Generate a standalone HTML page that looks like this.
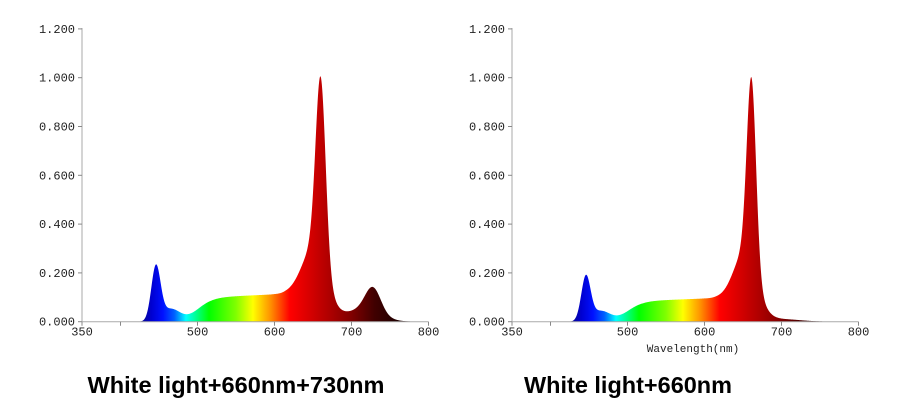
<!DOCTYPE html>
<html><head><meta charset="utf-8"><style>
body{margin:0;background:#fff;width:917px;height:412px;overflow:hidden}
svg{display:block}
.t{font-family:"Liberation Mono",monospace;font-size:12px;fill:#222}
.h{font-family:"Liberation Sans",sans-serif;font-weight:bold;font-size:23.5px;fill:#000}
</style></head><body>
<svg id="s" width="917" height="412" xmlns="http://www.w3.org/2000/svg">
<defs></defs>
<text class="h" x="236" y="393" text-anchor="middle" textLength="297" lengthAdjust="spacingAndGlyphs">White light+660nm+730nm</text>
<text class="h" x="628" y="393" text-anchor="middle" textLength="208" lengthAdjust="spacingAndGlyphs">White light+660nm</text>
<text class="t" x="693" y="352" text-anchor="middle" style="font-size:11px">Wavelength(nm)</text>
</svg>
<script>
var NS="http://www.w3.org/2000/svg",s=document.getElementById('s');
function g(x,m,sd){return Math.exp(-(x-m)*(x-m)/(2*sd*sd));}
function ph(l,a){var v=a/(1+Math.exp(-(l-500)/10));var k=Math.min(1,Math.max(0,(l-520)/80));v*=0.9+0.1*k;if(l>612)v*=Math.exp(-(l-612)*(l-612)/1800);return v;}
function fL(l){return 0.22*g(l,446,6)+0.05*g(l,465,12)+ph(l,0.112)+0.75*g(l,660,6.5)+0.25*g(l,652,16)+0.1*g(l,728,10)+0.05*g(l,715,22);}
function fR(l){return 0.18*g(l,446,6)+0.042*g(l,465,12)+ph(l,0.095)+0.765*g(l,661,6)+0.24*g(l,653,15)+0.01*g(l,700,25);}
var stops=[[420,"#101070"],[440,"#0000d0"],[455,"#0010ff"],[470,"#0060ff"],[485,"#00ffff"],[515,"#00ff00"],[550,"#80ff00"],[572,"#ffff00"],[595,"#ff9000"],[620,"#ff0000"],[660,"#c00000"],[700,"#800000"],[730,"#400000"],[760,"#200000"]];
function el(n,a,p){var e=document.createElementNS(NS,n);for(var k in a)e.setAttribute(k,a[k]);(p||s).appendChild(e);return e;}
function chart(x0,f,id){
 var y0=321.7,sy=244,sx=0.77;
 var X=function(l){return x0+(l-350)*sx;},Y=function(v){return y0-v*sy;};
 var gr=el('linearGradient',{id:id,gradientUnits:'userSpaceOnUse',x1:X(350),y1:0,x2:X(800),y2:0},s.querySelector('defs'));
 stops.forEach(function(st){el('stop',{offset:((st[0]-350)/450).toFixed(4),'stop-color':st[1]},gr);});
 var d="M"+X(380)+","+y0;
 for(var l=380;l<=800;l+=0.5)d+=" L"+X(l).toFixed(2)+","+Y(f(l)).toFixed(2);
 d+=" L"+X(800)+","+y0+"Z";
 el('path',{d:d,fill:'url(#'+id+')'});
 el('line',{x1:x0,y1:28,x2:x0,y2:y0,stroke:'#aaa','stroke-width':1});
 el('line',{x1:x0,y1:y0,x2:X(800),y2:y0,stroke:'#aaa','stroke-width':1});
 for(var i=0;i<=6;i++){var v=i*0.2,y=Y(v);
  el('line',{x1:x0-4,y1:y,x2:x0,y2:y,stroke:'#888'});
  var t=el('text',{x:x0-7,y:y+4,'text-anchor':'end','class':'t'});t.textContent=v.toFixed(3);}
 [350,400,500,600,700,800].forEach(function(l){var x=X(l);
  el('line',{x1:x,y1:y0,x2:x,y2:y0+4,stroke:'#888'});
  if(l!=400){var t=el('text',{x:x,y:y0+14,'text-anchor':'middle','class':'t'});t.textContent=l;}});
}
chart(82,fL,'gA');chart(512,fR,'gB');
</script>
</body></html>
